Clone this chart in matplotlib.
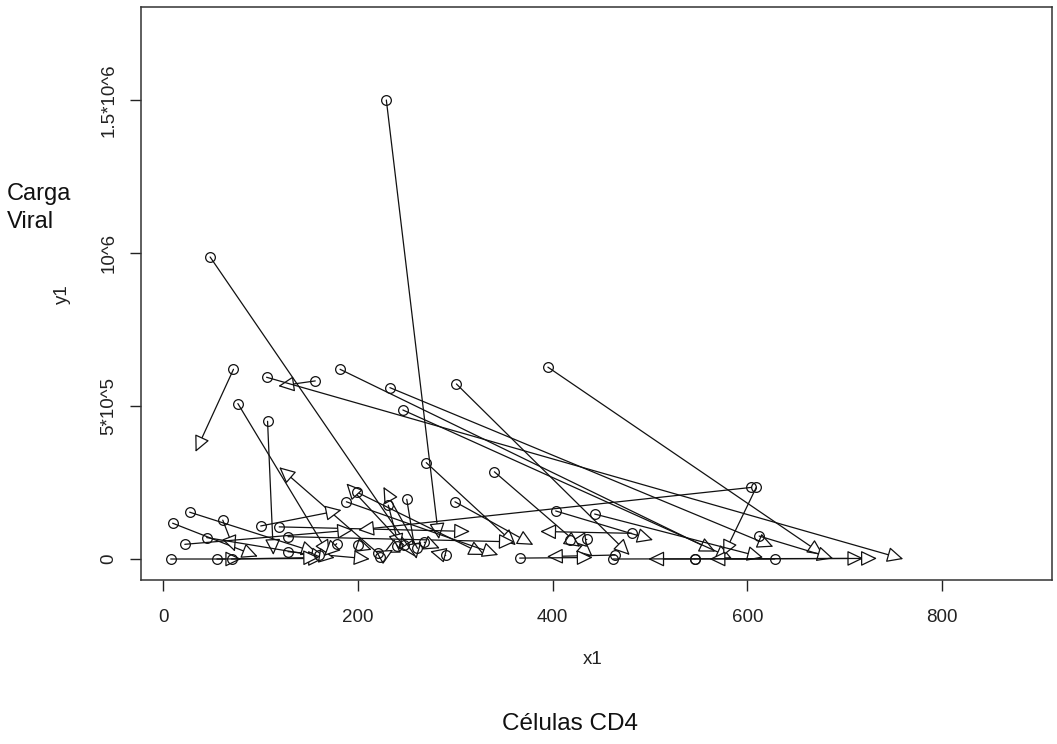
import matplotlib
matplotlib.use("Agg")
import matplotlib.pyplot as plt
from matplotlib.patches import FancyArrowPatch

plt.rcParams['font.family'] = ['Liberation Sans', 'DejaVu Sans']

# Values: each arrow goes from a first visit (circle)
# to a later visit (arrowhead).  CD4 cells (x1) and viral load (y1, in 1e5 units).
Y_UNIT = 1e5
x_start = [229, 48, 72, 156, 76.5, 220, 107, 106, 181.5, 232.7, 246, 301, 395,
           270, 340, 299.5, 250, 231, 199, 188, 247, 261, 100, 119, 128, 128,
           27, 9.5, 61, 22, 44.5, 7.5, 55, 70, 604, 609, 403, 443, 481, 612,
           628, 546, 435, 418, 464, 366, 462, 546,
           200, 240, 268, 160, 290, 222, 178]
y_start = [15.0, 9.87, 6.2, 5.82, 5.08, 0.2, 4.5, 5.94, 6.2, 5.6, 4.87, 5.72, 6.27,
           3.15, 2.85, 1.87, 1.95, 1.76, 2.18, 1.87, 0.45, 0.35, 1.08, 1.05, 0.73, 0.24,
           1.53, 1.17, 1.27, 0.48, 0.7, 0.0, 0.0, 0.0, 2.34, 2.34, 1.57, 1.47, 0.84, 0.75,
           0.0, 0.0, 0.64, 0.62, 0.13, 0.03, 0.0, 0.0,
           0.45, 0.42, 0.55, 0.12, 0.12, 0.05, 0.5]
x_end = [283, 259, 33, 118, 171, 119, 113, 760, 567, 626.5, 584, 479, 678,
         362, 441, 380, 260, 243, 330, 344, 188, 226, 183, 315, 361, 212,
         158, 97, 73.5, 195, 168, 80, 165, 160, 200, 575, 503, 616, 387, 688,
         561, 498, 418, 428, 394, 441, 719, 733,
         214, 226, 284, 176, 274, 236, 165]
y_end = [0.65, 0.07, 3.5, 5.65, 0.1, 3.0, 0.13, 0.0, 0.24, 0.4, 0.02, 0.13, 0.13,
         0.45, 0.08, 0.46, 0.0, 0.3, 0.13, 0.13, 2.47, 2.36, 1.6, 0.9, 0.56, 0.0,
         0.2, 0.08, 0.24, 0.95, 0.05, 0.0, 0.02, 0.05, 0.95, 0.1, 0.62, 0.05, 0.9, 0.02,
         0.0, 0.0, 0.57, 0.4, 0.08, 0.05, 0.02, 0.02,
         0.3, 0.2, 0.35, 0.04, 0.25, 0.3, 0.1]

x_ticks = [0, 200, 400, 600, 800]
y_ticks = [0, 5e5, 1e6, 1.5e6]
y_tick_labels = ["0", "5*10^5", "10^6", "1.5*10^6"]

W, H = 1057, 744
fig = plt.figure(figsize=(W / 100, H / 100), dpi=100)
ax = fig.add_axes([141 / W, 1 - 580 / H, (1052 - 141) / W, (580 - 7) / H])
ax.set_xlim(-23, 912.8)
ax.set_ylim(-0.686e5, 18.04e5)

for xs, ys, xe, ye in zip(x_start, y_start, x_end, y_end):
    arr = FancyArrowPatch((xs, ys * Y_UNIT), (xe, ye * Y_UNIT),
                          arrowstyle='-|>,head_length=10,head_width=4.8',
                          mutation_scale=1, fc='white', ec='#111111', lw=0.9,
                          shrinkA=0, shrinkB=0, zorder=3)
    ax.add_patch(arr)

ax.plot(x_start, [v * Y_UNIT for v in y_start], 'o', mfc='none', mec='#111111',
        ms=7, mew=0.9, zorder=4)

ax.set_xticks(x_ticks)
ax.set_xticklabels([str(t) for t in x_ticks])
ax.set_yticks(y_ticks)
ax.set_yticklabels(y_tick_labels, rotation=90, va='center')
ax.tick_params(axis='both', direction='out', length=8, width=1, labelsize=13.5,
               colors='#222222')
ax.tick_params(axis='x', pad=13)
ax.tick_params(axis='y', pad=9)
for sp in ax.spines.values():
    sp.set_linewidth(1.1)
    sp.set_color('#333333')

fig.text(593 / W, 1 - 659 / H, "x1", fontsize=13.5, ha='center', va='center',
         color='#222222')
fig.text(62 / W, 1 - 294 / H, "y1", fontsize=13.5, ha='center', va='center',
         rotation=90, color='#222222')

fig.text(7 / W, 1 - 200 / H, "Carga", fontsize=17, ha='left', va='baseline',
         color='#111111')
fig.text(7 / W, 1 - 228 / H, "Viral", fontsize=17, ha='left', va='baseline',
         color='#111111')
fig.text(570 / W, 1 - 730 / H, "Células CD4", fontsize=17.5, ha='center',
         va='baseline', color='#111111')

fig.savefig("out.png", dpi=100)
